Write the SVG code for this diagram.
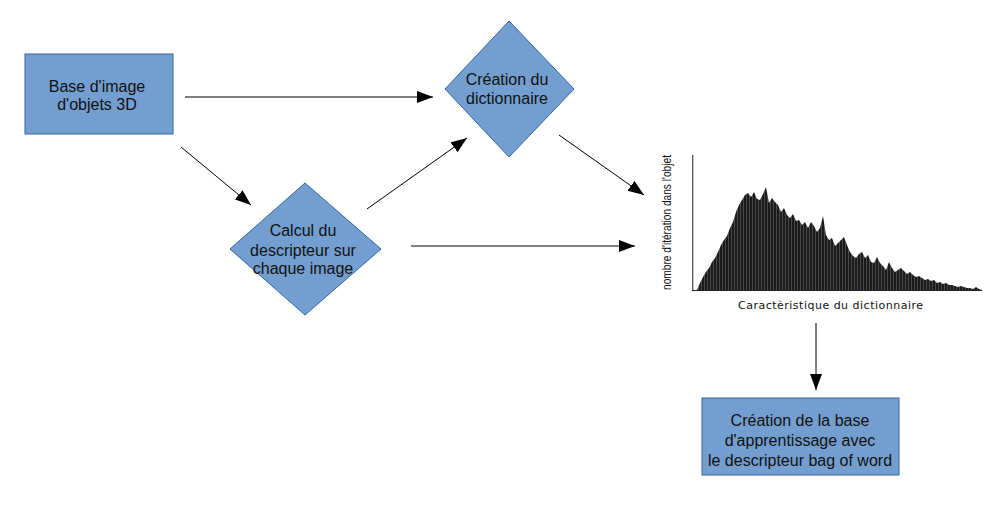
<svg xmlns="http://www.w3.org/2000/svg" width="1005" height="522" viewBox="0 0 1005 522">
<style>
.node{fill:#729fcf;stroke:#3465a4;stroke-width:1}
.lbl{font-family:"Liberation Sans",Arial,sans-serif;font-size:16px;fill:#111;text-anchor:middle}
.conn{stroke:#000;stroke-width:1;fill:none;marker-end:url(#ah)}
</style>
<defs>
<marker id="ah" markerUnits="userSpaceOnUse" markerWidth="17" markerHeight="13" refX="16" refY="6" orient="auto">
<path d="M0,0 L16,6 L0,12 z" fill="#000"/>
</marker>
<pattern id="bars" patternUnits="userSpaceOnUse" width="3" height="10">
<rect width="3" height="10" fill="#1a1a1a"/>
<rect x="2" width="1" height="10" fill="#4a4a4a"/>
</pattern>
</defs>
<rect width="1005" height="522" fill="#fff"/>
<g id="connectors">
<line class="conn" x1="185" y1="97" x2="433" y2="97"/>
<line class="conn" x1="181" y1="147" x2="251" y2="205"/>
<line class="conn" x1="367" y1="209" x2="467" y2="138"/>
<line class="conn" x1="559" y1="135" x2="644" y2="195"/>
<line class="conn" x1="411" y1="246" x2="635" y2="246"/>
<line class="conn" x1="816" y1="323" x2="816" y2="390"/>
</g>
<g id="base-image">
<rect class="node" x="25" y="54" width="148" height="80"/>
<text class="lbl" x="97" y="91.5">Base d'image</text>
<text class="lbl" x="97" y="110">d'objets 3D</text>
</g>
<g id="creation-dictionnaire">
<polygon class="node" points="509,21 574,89 509,157 445,89"/>
<text class="lbl" x="507" y="85">Création du</text>
<text class="lbl" x="507" y="103.5">dictionnaire</text>
</g>
<g id="calcul-descripteur">
<polygon class="node" points="305,183 381,249 305,315 230,249"/>
<text class="lbl" x="303" y="236">Calcul du</text>
<text class="lbl" x="303" y="255.5">descripteur sur</text>
<text class="lbl" x="303" y="274">chaque image</text>
</g>
<g id="histogramme">
<line x1="692.7" y1="155" x2="692.7" y2="290" stroke="#555" stroke-width="1.3"/>
<polygon fill="url(#bars)" points="697,290 700,283 703,277 706,272 709,268 712,262 715,258 718,252 721,245 724,240 727,236 730,228 733,222 736,212 739,205 742,200 745,195 748,193 751,197 754,192 757,199 760,200 763,194 766,187 769,203 772,198 775,202 778,205 781,212 784,208 787,215 790,218 793,214 796,221 799,220 802,225 805,222 808,228 811,222 814,226 817,232 820,228 823,216 826,235 829,240 832,238 835,246 838,243 841,240 844,237 847,245 850,252 853,256 856,258 859,254 862,252 865,258 868,255 871,262 874,263 877,257 880,263 883,266 886,270 889,262 892,268 895,272 898,270 901,268 904,271 907,274 910,272 913,275 916,277 919,276 922,278 925,280 928,279 931,281 934,280 937,283 940,282 943,284 946,283 949,285 952,285 955,286 958,287 961,286 964,287 967,288 970,288 973,289 976,287 979,289 982,290"/>
<line x1="692" y1="290.5" x2="982" y2="290.5" stroke="#222" stroke-width="1.2"/>
<text x="738" y="309" font-family="'DejaVu Sans',Verdana,sans-serif" font-size="11" fill="#111" textLength="185" lengthAdjust="spacing">Caractèristique du dictionnaire</text>
<text transform="translate(671,222.5) rotate(-90)" font-family="'Liberation Sans',Arial,sans-serif" font-size="12" fill="#111" text-anchor="middle" textLength="135" lengthAdjust="spacingAndGlyphs">nombre d'itération dans l'objet</text>
</g>
<g id="creation-base">
<rect class="node" x="702" y="398" width="197" height="77"/>
<text class="lbl" x="800" y="425.5">Création de la base</text>
<text class="lbl" x="800" y="445.5">d'apprentissage avec</text>
<text class="lbl" x="800" y="465.5">le descripteur bag of word</text>
</g>
</svg>
